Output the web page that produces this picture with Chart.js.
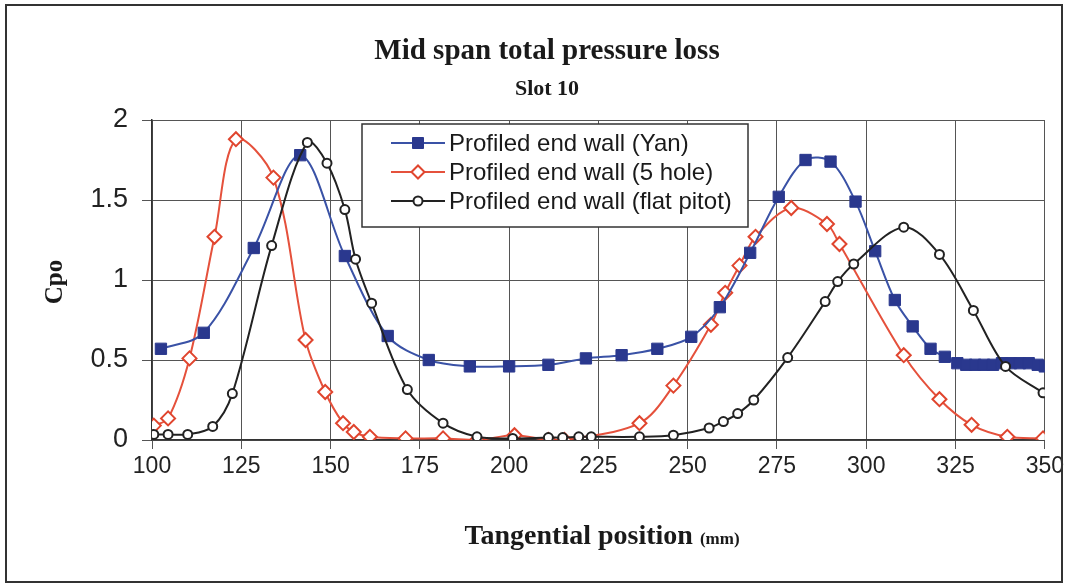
<!DOCTYPE html>
<html>
<head>
<meta charset="utf-8">
<script src="https://cdn.jsdelivr.net/npm/chart.js@4"></script>
<style>
  html, body { margin: 0; padding: 0; background: #fff; }
  #wrap { position: relative; width: 1068px; height: 586px; }
</style>
</head>
<body>
<div id="wrap"><canvas id="myChart" width="1068" height="586"></canvas></div>
<script>
// Values
const yanX = [102.5, 114.5, 128.5, 141.5, 154, 166, 177.5, 189, 200, 211, 221.5, 231.5, 241.5, 251, 259, 267.5, 275.5, 283, 290, 297, 302.5, 308, 313, 318, 322, 325.5, 328, 330.5, 333, 335.5, 338, 340.5, 343, 345.5, 348, 350];
const yanY = [0.57, 0.67, 1.20, 1.78, 1.15, 0.65, 0.50, 0.46, 0.46, 0.47, 0.51, 0.53, 0.57, 0.645, 0.83, 1.17, 1.52, 1.75, 1.74, 1.49, 1.18, 0.875, 0.71, 0.57, 0.52, 0.48, 0.47, 0.47, 0.47, 0.47, 0.48, 0.48, 0.48, 0.48, 0.47, 0.46];

const holeX = [100.5, 104.5, 110.5, 117.5, 123.5, 134, 143, 148.5, 153.5, 156.5, 161, 171, 181.5, 191, 201.5, 211, 215.5, 236.5, 246, 256.5, 260.5, 264.5, 269, 279, 289, 292.5, 310.5, 320.5, 329.5, 339.5, 349.5];
const holeY = [0.09, 0.135, 0.51, 1.27, 1.88, 1.64, 0.625, 0.30, 0.105, 0.05, 0.02, 0.01, 0.01, 0.0, 0.03, 0.0, 0.0, 0.105, 0.34, 0.72, 0.92, 1.09, 1.27, 1.45, 1.35, 1.225, 0.53, 0.255, 0.095, 0.02, 0.01];

const pitotX = [100.5, 104.5, 110, 117, 122.5, 133.5, 143.5, 149, 154, 157, 161.5, 171.5, 181.5, 191, 201, 211, 215, 219.5, 223, 236.5, 246, 256, 260, 264, 268.5, 278, 288.5, 292, 296.5, 310.5, 320.5, 330, 339, 349.5];
const pitotY = [0.035, 0.035, 0.035, 0.085, 0.29, 1.215, 1.86, 1.73, 1.44, 1.13, 0.855, 0.315, 0.105, 0.02, 0.01, 0.015, 0.015, 0.02, 0.02, 0.02, 0.03, 0.075, 0.115, 0.165, 0.25, 0.515, 0.865, 0.99, 1.10, 1.33, 1.16, 0.81, 0.46, 0.295];

const seriesNames = ['Profiled end wall (Yan)', 'Profiled end wall (5 hole)', 'Profiled end wall (flat pitot)'];
const xTicks = [100, 125, 150, 175, 200, 225, 250, 275, 300, 325, 350];
const yTicks = [0, 0.5, 1, 1.5, 2];

function toPoints(xs, ys) {
    return xs.map((x, i) => ({ x: x, y: ys[i] }));
}

const sans = "'Liberation Sans', Arial, sans-serif";
const narrow = "'Liberation Sans Narrow', 'Liberation Sans', Arial, sans-serif";
const serif = "'Liberation Serif', 'Times New Roman', serif";

const datasets = [
    {
        label: seriesNames[0],
        data: toPoints(yanX, yanY),
        borderColor: '#3a52a6',
        backgroundColor: '#2a388e',
        pointBackgroundColor: '#2a388e',
        pointBorderColor: '#2a388e',
        pointStyle: 'rect',
        pointRadius: 8,
        pointBorderWidth: 1,
        borderWidth: 2,
        tension: 0.33,
        order: 1
    },
    {
        label: seriesNames[1],
        data: toPoints(holeX, holeY),
        borderColor: '#e5513c',
        backgroundColor: '#ffffff',
        pointBackgroundColor: '#ffffff',
        pointBorderColor: '#e0452e',
        pointStyle: 'rectRot',
        pointRadius: 7,
        pointBorderWidth: 2,
        borderWidth: 2,
        tension: 0.33,
        order: 2
    },
    {
        label: seriesNames[2],
        data: toPoints(pitotX, pitotY),
        borderColor: '#222222',
        backgroundColor: '#ffffff',
        pointBackgroundColor: '#ffffff',
        pointBorderColor: '#222222',
        pointStyle: 'circle',
        pointRadius: 4.5,
        pointBorderWidth: 2,
        borderWidth: 2,
        tension: 0.33,
        order: 0
    }
];

// frame, titles and legend drawn on the canvas
const decorations = {
    id: 'decorations',
    beforeDraw(chart) {
        const ctx = chart.ctx;
        ctx.save();
        ctx.fillStyle = '#fff';
        ctx.fillRect(0, 0, chart.width, chart.height);
        ctx.restore();
    },
    afterDraw(chart) {
        const ctx = chart.ctx;
        ctx.save();

        // outer frame
        ctx.strokeStyle = '#333';
        ctx.lineWidth = 2;
        ctx.strokeRect(6, 5, 1056, 577);

        // titles
        ctx.fillStyle = '#1a1a1a';
        ctx.textAlign = 'center';
        ctx.textBaseline = 'middle';
        ctx.font = 'bold 29px ' + serif;
        ctx.fillText('Mid span total pressure loss', 547, 52);
        ctx.font = 'bold 22px ' + serif;
        ctx.fillText('Slot 10', 547, 89);

        // x axis title with smaller unit
        ctx.font = 'bold 28px ' + serif;
        const main = 'Tangential position ';
        const wMain = ctx.measureText(main).width;
        ctx.font = 'bold 17px ' + serif;
        const unit = '(mm)';
        const wUnit = ctx.measureText(unit).width;
        const startX = 602 - (wMain + wUnit) / 2;
        ctx.textAlign = 'left';
        ctx.textBaseline = 'alphabetic';
        ctx.font = 'bold 28px ' + serif;
        ctx.fillText(main, startX, 544);
        ctx.font = 'bold 17px ' + serif;
        ctx.fillText(unit, startX + wMain, 544);

        // y axis title
        ctx.save();
        ctx.translate(56, 282);
        ctx.rotate(-Math.PI / 2);
        ctx.textAlign = 'center';
        ctx.textBaseline = 'middle';
        ctx.font = 'bold 25px ' + serif;
        ctx.fillText('Cpo', 0, 0);
        ctx.restore();

        // legend box
        const bx = 362, by = 124, bw = 386, bh = 103;
        ctx.fillStyle = '#fff';
        ctx.fillRect(bx, by, bw, bh);
        ctx.strokeStyle = '#333';
        ctx.lineWidth = 1.5;
        ctx.strokeRect(bx, by, bw, bh);

        const rowY = [143, 172, 201];
        chart.data.datasets.forEach((ds, i) => {
            const y = rowY[i];
            ctx.strokeStyle = ds.borderColor;
            ctx.lineWidth = 2;
            ctx.beginPath();
            ctx.moveTo(391, y);
            ctx.lineTo(445, y);
            ctx.stroke();
            const cx = 418;
            ctx.fillStyle = ds.pointBackgroundColor;
            ctx.strokeStyle = ds.pointBorderColor;
            ctx.lineWidth = ds.pointBorderWidth;
            ctx.beginPath();
            if (ds.pointStyle === 'rect') {
                ctx.rect(cx - 5.5, y - 5.5, 11, 11);
            } else if (ds.pointStyle === 'rectRot') {
                const r = 6.5;
                ctx.moveTo(cx - r, y);
                ctx.lineTo(cx, y - r);
                ctx.lineTo(cx + r, y);
                ctx.lineTo(cx, y + r);
                ctx.closePath();
            } else {
                ctx.arc(cx, y, 4.5, 0, Math.PI * 2);
            }
            ctx.fill();
            ctx.stroke();

            ctx.fillStyle = '#1a1a1a';
            ctx.font = '24px ' + sans;
            ctx.textAlign = 'left';
            ctx.textBaseline = 'middle';
            ctx.fillText(ds.label, 449, y + 1);
        });

        ctx.restore();
    }
};

const ctx = document.getElementById('myChart').getContext('2d');
const chart = new Chart(ctx, {
    type: 'line',
    data: { datasets: datasets },
    options: {
        responsive: false,
        animation: false,
        layout: { padding: { top: 120, right: 21, left: 0, bottom: 0 } },
        plugins: {
            legend: { display: false },
            title: { display: false },
            tooltip: { enabled: false }
        },
        scales: {
            x: {
                type: 'linear',
                min: 100,
                max: 350,
                afterBuildTicks: axis => { axis.ticks = xTicks.map(v => ({ value: v })); },
                afterFit: axis => { axis.height = 146; },
                ticks: {
                    font: { family: narrow, size: 23 },
                    color: '#222',
                    padding: 4,
                    maxRotation: 0,
                    callback: v => String(v)
                },
                grid: { color: '#555', lineWidth: 1, tickLength: 9, tickColor: '#555' },
                border: { color: '#333', width: 1.5 }
            },
            y: {
                min: 0,
                max: 2,
                afterBuildTicks: axis => { axis.ticks = yTicks.map(v => ({ value: v })); },
                afterFit: axis => { axis.width = 152; },
                ticks: {
                    font: { family: sans, size: 27 },
                    color: '#222',
                    padding: 14,
                    callback: v => String(v)
                },
                grid: { color: '#555', lineWidth: 1, tickLength: 10, tickColor: '#555' },
                border: { color: '#333', width: 1.5 }
            }
        }
    },
    plugins: [decorations]
});
</script>
</body>
</html>
